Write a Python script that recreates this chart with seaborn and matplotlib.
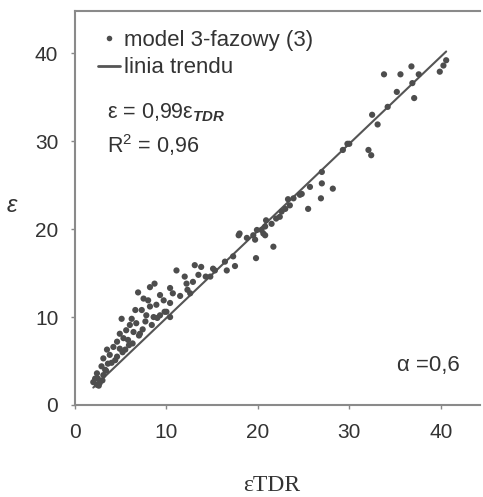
import numpy as np
import pandas as pd
import matplotlib
matplotlib.use("Agg")
import matplotlib.pyplot as plt
import seaborn as sns
from matplotlib.lines import Line2D

# ---- data ----
eps_tdr = [33.8, 35.6, 36.8, 37.6, 40.3, 39.9, 36.9, 37.1, 35.2, 34.2, 32.5, 33.1,
           30.0, 29.3, 32.1, 32.4, 27.0, 27.0, 28.2, 25.7, 24.8, 23.9, 26.9, 29.8,
           25.5, 24.6, 23.5, 23.0, 22.6, 22.4, 22.0, 21.5, 20.9, 20.8, 20.4, 19.9,
           19.5, 19.7, 18.0, 17.9, 20.6, 20.8, 21.7, 19.8, 17.3, 17.5, 16.6, 16.4,
           15.1, 13.8, 13.1, 15.3, 11.1, 14.8, 13.5, 12.2, 12.9, 12.0, 8.7, 10.4,
           10.7, 12.6, 6.9, 7.5, 8.0, 9.3, 9.7, 10.4, 8.2, 8.9, 7.3, 7.8, 8.6, 9.3,
           10.0, 10.4, 6.2, 5.1, 6.7, 7.7, 8.4, 5.6, 6.4, 7.1, 4.9, 5.3, 5.8, 4.6,
           4.2, 4.9, 5.5, 3.5, 3.8, 4.6, 3.1, 3.6, 2.9, 3.3, 2.4, 2.5, 2.2, 2.0,
           2.7, 2.4, 3.1, 6.6, 6.0, 8.2, 40.6, 23.3, 18.8, 14.3,
           2.6, 3.0, 3.4, 4.0, 4.4, 5.2, 5.9, 6.3, 7.0, 7.4, 9.0, 9.8, 11.5, 12.3]
eps_model = [37.6, 37.6, 38.5, 37.6, 38.6, 37.9, 36.6, 34.9, 35.6, 33.9, 33.0, 31.9,
             29.7, 29.0, 29.0, 28.4, 26.5, 25.2, 24.6, 24.8, 24.0, 23.5, 23.5, 29.7,
             22.3, 23.9, 22.7, 22.3, 22.0, 21.4, 21.2, 20.6, 21.0, 20.3, 19.9, 19.9,
             19.3, 18.8, 19.5, 19.3, 19.5, 19.3, 18.0, 16.7, 16.9, 15.8, 15.3, 16.3,
             15.5, 15.7, 15.9, 15.3, 15.3, 14.6, 14.8, 13.8, 14.0, 14.6, 13.8, 13.3,
             12.7, 12.7, 12.8, 12.1, 11.9, 12.5, 11.9, 11.6, 11.2, 11.4, 10.8, 10.2,
             10.0, 10.2, 10.6, 10.0, 9.8, 9.8, 9.3, 9.5, 9.1, 8.5, 8.3, 8.1, 8.1,
             7.6, 7.4, 7.2, 6.6, 6.4, 6.3, 6.3, 5.7, 5.5, 5.3, 4.7, 4.4, 4.0, 3.6,
             3.0, 3.0, 2.6, 2.5, 2.3, 3.4, 10.8, 9.1, 13.4, 39.2, 23.4, 19.0, 14.6,
             2.2, 2.8, 3.9, 4.8, 5.1, 6.0, 6.8, 7.0, 7.9, 8.6, 9.9, 10.6, 12.4, 13.1]
trend_slope = 0.99
r_squared = "0,96"
alpha_label = "α =0,6"
x_ticks = [0, 10, 20, 30, 40]
y_ticks = [0, 10, 20, 30, 40]

df = pd.DataFrame({"eps_tdr": eps_tdr, "eps": eps_model})
trend_x = np.array([min(eps_tdr), max(eps_tdr)])
trend = pd.DataFrame({"x": trend_x, "y": trend_slope * trend_x})

sns.set_theme(style="white")
plt.rcParams["font.family"] = ["Liberation Sans", "DejaVu Sans"]
plt.rcParams["mathtext.fontset"] = "custom"
plt.rcParams["mathtext.it"] = "Liberation Sans:italic:bold"
plt.rcParams["mathtext.rm"] = "Liberation Sans"

fig = plt.figure(figsize=(4.83, 4.97), dpi=100)
ax = fig.add_axes([75 / 483, 1 - 405 / 497, 405 / 483, 394 / 497])

pc = "#4d4d4d"
sns.lineplot(data=trend, x="x", y="y", ax=ax, color="#555555", linewidth=1.5, zorder=2)
sns.scatterplot(data=df, x="eps_tdr", y="eps", ax=ax, color=pc, s=20,
                edgecolor="none", zorder=3)

ax.set_xlim(0, 44.3)
ax.set_ylim(0, 44.8)
ax.set_xticks(x_ticks)
ax.set_yticks(y_ticks)
ax.tick_params(axis="both", which="both", direction="out", length=3, width=1,
               color="#888888", labelsize=15, labelcolor="#333333",
               bottom=True, left=True)
ax.tick_params(axis="x", pad=10)
ax.tick_params(axis="y", pad=9)
for side in ["top", "left", "bottom"]:
    ax.spines[side].set_color("#8a8a8a")
    ax.spines[side].set_linewidth(1.5)
ax.spines["right"].set_visible(False)

ax.set_xlabel("εTDR", fontsize=17, family=["Liberation Serif", "DejaVu Serif"],
              color="#333333", va="top")
ax.xaxis.set_label_coords((272 - 75) / 405, (405 - 475) / 394)
ax.set_ylabel("ε", fontsize=17, style="italic", color="#333333", rotation=0,
              va="center", ha="center")
ax.yaxis.set_label_coords((12 - 75) / 405, (405 - 205) / 394)

handles = [Line2D([], [], marker="o", linestyle="none", markersize=4,
                  color=pc, markeredgecolor="none"),
           Line2D([], [], color="#555555", linewidth=2.0)]
leg = ax.legend(handles, ["model 3-fazowy (3)", "linia trendu"], loc="upper left",
                bbox_to_anchor=(0.035, 0.975), frameon=False, fontsize=16,
                handlelength=1.0, handletextpad=0.15, labelspacing=0.3,
                borderaxespad=0.0, borderpad=0.4)
for t in leg.get_texts():
    t.set_color("#333333")

ax.text(0.079, 0.741, r"ε = 0,99ε$_{\mathit{TDR}}$", transform=ax.transAxes,
        fontsize=15.5, color="#333333", va="center")
ax.text(0.079, 0.66, "R$^2$ = " + r_squared, transform=ax.transAxes,
        fontsize=15.5, color="#333333", va="center")
ax.text(0.795, 0.10, alpha_label, transform=ax.transAxes, fontsize=16,
        color="#333333", va="center")

fig.savefig("out.png", dpi=100)
